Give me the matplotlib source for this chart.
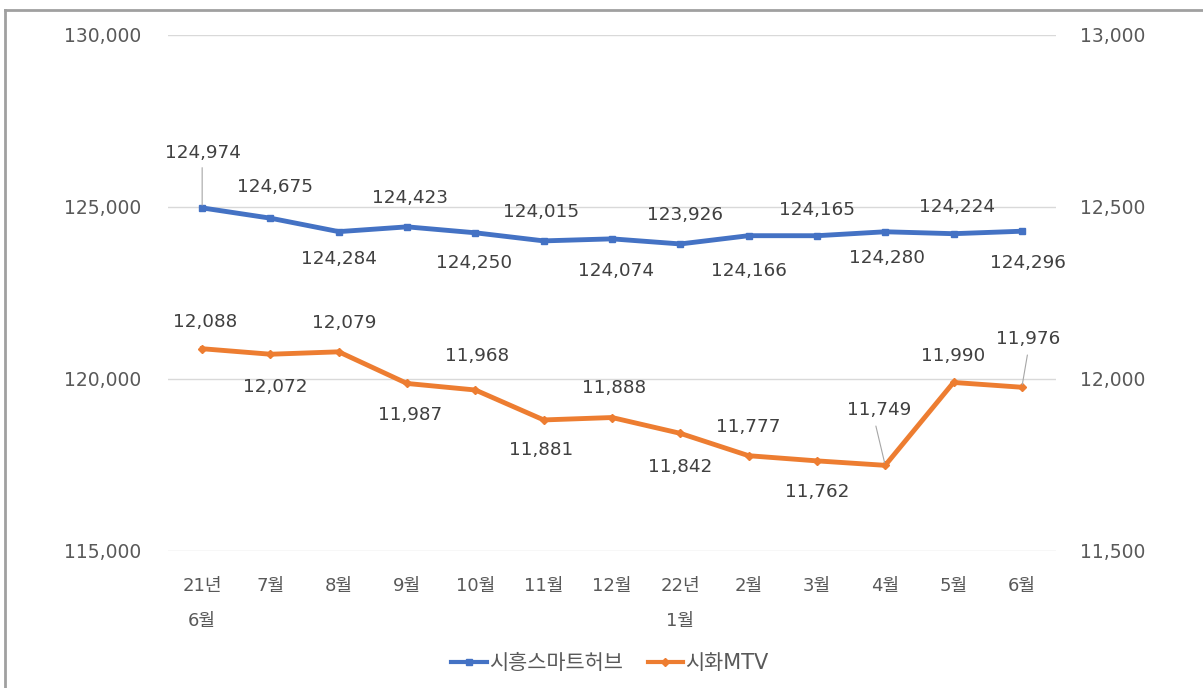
import matplotlib.pyplot as plt
from matplotlib.lines import Line2D
from matplotlib.ticker import FuncFormatter

plt.rcParams['font.family'] = ['DejaVu Sans', 'Noto Sans CJK KR']

# 데이터
months = ['21년\n6월', '7월', '8월', '9월', '10월', '11월', '12월',
          '22년\n1월', '2월', '3월', '4월', '5월', '6월']
hub = [124974, 124675, 124284, 124423, 124250, 124015, 124074,
       123926, 124166, 124165, 124280, 124224, 124296]
mtv = [12088, 12072, 12079, 11987, 11968, 11881, 11888,
       11842, 11777, 11762, 11749, 11990, 11976]

# 라벨 위치 (픽셀 오프셋, 음수 = 아래)
hub_off = [55, 31, -27, 29, -30, 29, -32, 29, -35, 26, -26, 27, -32]
mtv_off = [27, -33, 29, -32, 34, -30, 30, -34, 29, -31, 55, 26, 48]
hub_dx = [1, 5, 0, 3, -1, -3, 4, 5, 0, 0, 2, 3, 6]
mtv_dx = [3, 5, 5, 3, 2, -3, 2, 0, 0, 0, -6, 0, 6]
hub_lead = [0]
mtv_lead = [10, 12]

blue = '#4472C4'
orange = '#ED7D31'
gray = '#595959'

fig = plt.figure(figsize=(12.03, 6.88), dpi=100)
ax = fig.add_axes([168 / 1203, 1 - 551 / 688, (1056 - 168) / 1203, (551 - 35) / 688])
ax2 = ax.twinx()

x = list(range(len(months)))
ax.plot(x, hub, color=blue, lw=3.5, marker='s', ms=5, zorder=3)
ax2.plot(x, mtv, color=orange, lw=3.5, marker='D', ms=4, zorder=3)

ax.set_ylim(115000, 130000)
ax2.set_ylim(11500, 13000)
ax.set_yticks([115000, 120000, 125000, 130000])
ax2.set_yticks([11500, 12000, 12500, 13000])
ax.set_xlim(-0.5, 12.5)
fmt = FuncFormatter(lambda v, p: f'{int(v):,}')
ax.yaxis.set_major_formatter(fmt)
ax2.yaxis.set_major_formatter(fmt)
ax.grid(axis='y', color='#d9d9d9', lw=1)
ax.set_axisbelow(True)

ax.set_xticks(x)
ax.set_xticklabels(months, fontsize=13, color=gray, linespacing=2.2, va='top')
ax.tick_params(axis='x', length=0, pad=19)
ax.tick_params(axis='y', length=0, pad=19, labelsize=13.5, labelcolor=gray)
ax2.tick_params(axis='y', length=0, pad=17, labelsize=13.5, labelcolor=gray)
for a in (ax, ax2):
    for s in a.spines.values():
        s.set_visible(False)

for i, v in enumerate(hub):
    ax.annotate(f'{v:,}', (i, v), xytext=(hub_dx[i], hub_off[i]), textcoords='offset pixels',
                ha='center', va='center', fontsize=13.2, color='#404040')
    if i in hub_lead:
        ax.annotate('', (i, v), xytext=(0, hub_off[i] - 12), textcoords='offset pixels',
                    arrowprops=dict(arrowstyle='-', color='#a6a6a6', lw=0.8))
for i, v in enumerate(mtv):
    ax2.annotate(f'{v:,}', (i, v), xytext=(mtv_dx[i], mtv_off[i]), textcoords='offset pixels',
                 ha='center', va='center', fontsize=13.2, color='#404040')
    if i in mtv_lead:
        ax2.annotate('', (i, v), xytext=(mtv_dx[i] - (4 if i == 10 else 0), mtv_off[i] - 13),
                     textcoords='offset pixels',
                     arrowprops=dict(arrowstyle='-', color='#a6a6a6', lw=0.8))

handles = [Line2D([], [], color=blue, lw=3, marker='s', ms=5),
           Line2D([], [], color=orange, lw=3, marker='D', ms=4)]
fig.legend(handles, ['시흥스마트허브', '시화MTV'], loc='center', bbox_to_anchor=(0.507, 1 - 663 / 688),
           ncol=2, frameon=False, fontsize=15, handlelength=1.7, handletextpad=0.1,
           columnspacing=1.2, labelcolor=gray)

# 테두리
fig.add_artist(Line2D([5 / 1203, 5 / 1203], [0, 1 - 10 / 688], color='#a0a0a0', lw=2))
fig.add_artist(Line2D([5 / 1203, 1], [1 - 10 / 688, 1 - 10 / 688], color='#a0a0a0', lw=2))

fig.savefig('out.png', dpi=100)
